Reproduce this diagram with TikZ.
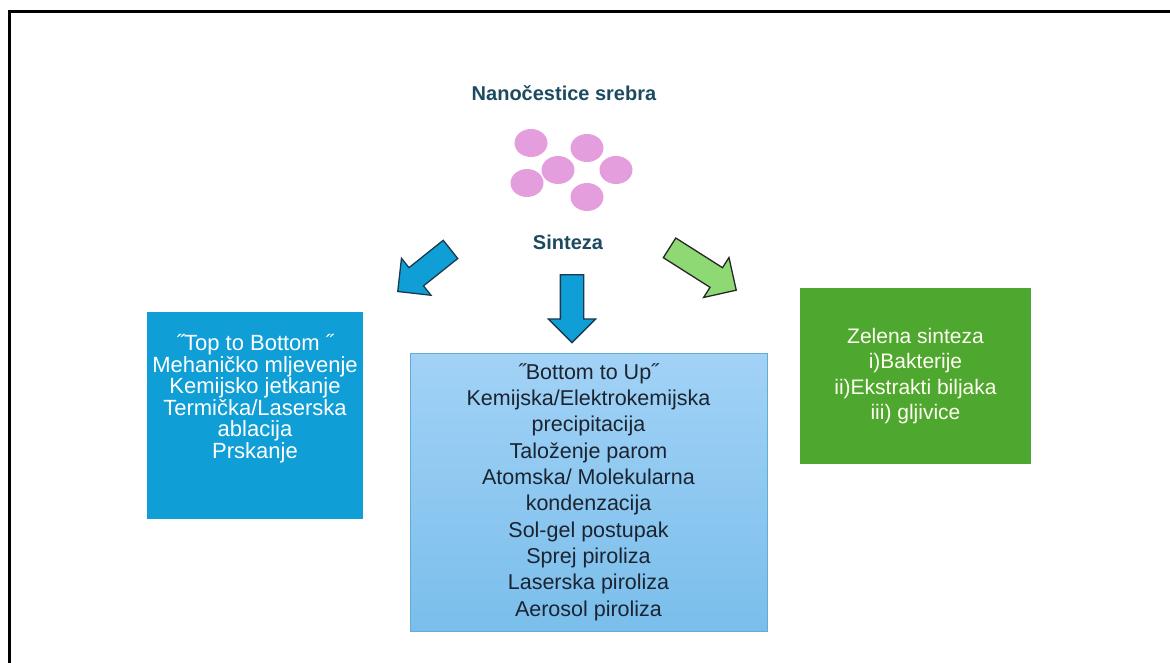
\documentclass[tikz,border=0pt]{standalone}
\usepackage{fontspec}
\setmainfont{Liberation Sans}
\usepackage{tikz}
\usetikzlibrary{shapes.geometric,shapes.arrows}

\definecolor{titleteal}{HTML}{1D4A60}
\definecolor{accblue}{HTML}{0F9ED5}
\definecolor{accgreen}{HTML}{4EA72E}
\definecolor{lightgreen}{HTML}{8ED973}
\definecolor{dotpink}{HTML}{E59EDD}
\definecolor{boxtop}{HTML}{A2D2F6}
\definecolor{boxbottom}{HTML}{7ABEEB}
\definecolor{boxline}{HTML}{62AED3}
\definecolor{arrline}{HTML}{1B3A4E}
\definecolor{darktext}{HTML}{1B2430}

\tikzset{
	heading/.style={font=\fontsize{20}{24}\selectfont\bfseries, text=titleteal},
	particle/.style={ellipse, fill=dotpink, minimum width=33pt, minimum height=28pt, inner sep=0pt},
	blockarrow/.style={single arrow, draw=arrline, line width=1.3pt, inner xsep=0pt, inner ysep=11pt,
		single arrow head extend=12pt, single arrow tip angle=90, anchor=tail},
	methodbox/.style={rectangle, inner sep=0pt, align=center},
}

\begin{document}
\begin{tikzpicture}[x=1pt, y=-1pt]
	\useasboundingbox (0,0) rectangle (1170,663);
	\draw[line width=3pt] (9,663) -- (9,11.5) -- (1170,11.5);

	\node[heading] (nano) at (564,93) {Nanočestice srebra};
	\foreach \i/\x/\y in {1/531/143, 2/587/148, 3/558/170, 4/616/170, 5/527/183, 6/587/197}
		\node[particle] (dot\i) at (\x,\y) {};
	\node[heading] (sinteza) at (568,242) {Sinteza};

	\node[blockarrow, fill=accblue, minimum height=67.5pt, rotate=218.6] (arrL) at (451,249) {};
	\node[blockarrow, fill=accblue, minimum height=68pt, rotate=270] (arrD) at (572,274) {};
	\node[blockarrow, fill=lightgreen, draw=black!85, minimum height=79pt, rotate=-32.4] (arrR) at (669,247.5) {};

	\node[methodbox, fill=accblue, minimum width=216pt, minimum height=207pt] (topdown) at (255,415.5) {};
	\node[align=center, text=white, font=\fontsize{22}{21.5}\selectfont] (topdownText) at (255,398.5)
		{˝Top to Bottom ˝\\ Mehaničko mljevenje\\ Kemijsko jetkanje\\ Termička/Laserska\\ ablacija\\ Prskanje};

	\node[methodbox, top color=boxtop, bottom color=boxbottom, draw=boxline, line width=1pt,
		minimum width=357pt, minimum height=278pt, text=darktext, font=\fontsize{21.5}{26.3}\selectfont] (bottomup) at (588.5,492)
		{˝Bottom to Up˝\\ Kemijska/Elektrokemijska\\ precipitacija\\ Taloženje parom\\ Atomska/ Molekularna\\ kondenzacija\\
		Sol-gel postupak\\ Sprej piroliza\\ Laserska piroliza\\ Aerosol piroliza};

	\node[methodbox, fill=accgreen, minimum width=231pt, minimum height=176pt, text=white!95!yellow,
		font=\fontsize{21}{25.5}\selectfont] (green) at (915.5,376)
		{Zelena sinteza\\ i)Bakterije\\ ii)Ekstrakti biljaka\\ iii) gljivice};
\end{tikzpicture}
\end{document}
